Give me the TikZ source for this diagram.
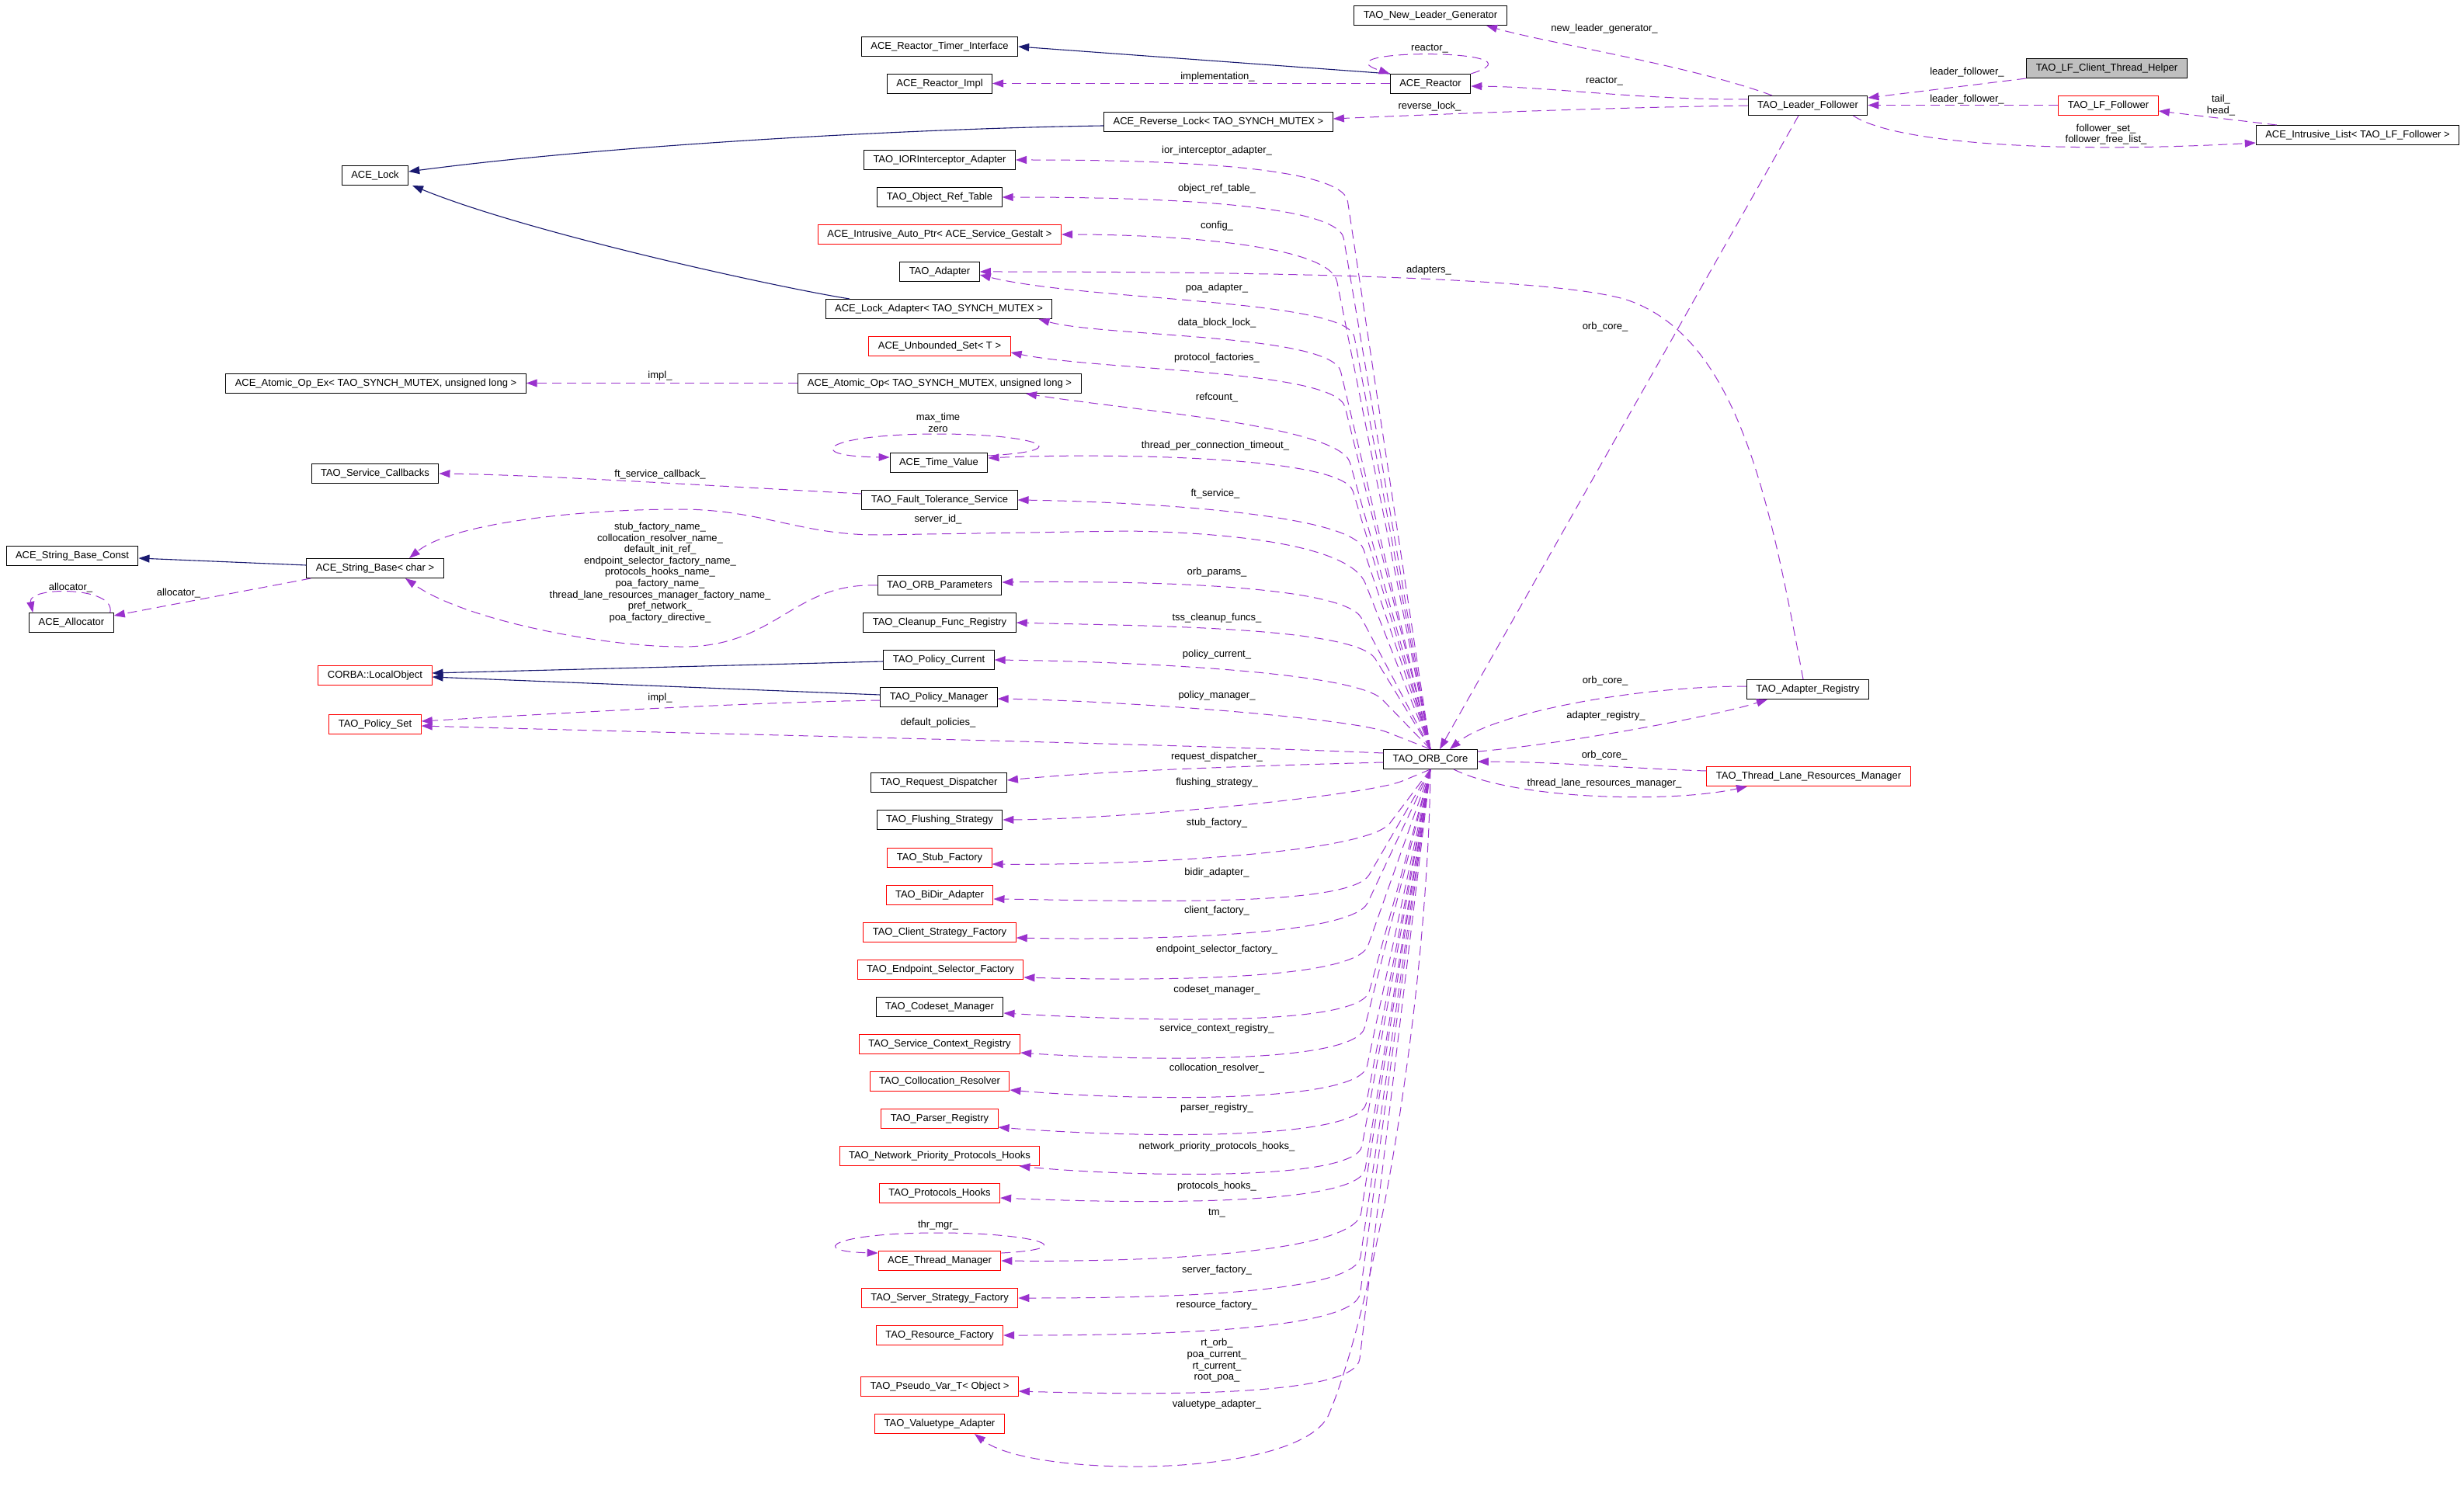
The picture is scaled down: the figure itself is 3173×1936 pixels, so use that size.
\documentclass[tikz,border=0pt]{standalone}
\usepackage{fontspec}
\setmainfont{Liberation Sans}
\usetikzlibrary{arrows.meta,calc}
\definecolor{edgepurple}{RGB}{154,50,205}
\definecolor{edgeblue}{RGB}{25,25,112}
\definecolor{helpergray}{RGB}{191,191,191}

\begin{document}
\begin{tikzpicture}[x=0.5pt, y=-0.5pt, font=\fontsize{6.5}{7.3}\selectfont,
    cls/.style={draw=black, line width=0.5pt, rectangle, minimum height=12.5pt, inner xsep=6pt, inner ysep=0pt},
    redcls/.style={cls, draw=red},
    curcls/.style={cls, fill=helpergray},
    dep/.style={draw=edgepurple, line width=0.5pt, dash pattern=on 6pt off 3.5pt, -{Triangle[length=7pt,width=5pt]}},
    inh/.style={draw=edgeblue, line width=0.55pt, -{Triangle[length=7pt,width=5pt]}},
    lbl/.style={inner sep=0pt, align=center}]
    \useasboundingbox (0,0) rectangle (3173,1936);

    % top row
    \node[cls] (nlg) at (1842,20) {TAO\_New\_Leader\_Generator};
    \node[cls] (rti) at (1210,60) {ACE\_Reactor\_Timer\_Interface};
    \node[cls] (rimpl) at (1210,108) {ACE\_Reactor\_Impl};
    \node[cls] (reactor) at (1842,108) {ACE\_Reactor};
    \node[cls] (revlock) at (1569,157) {ACE\_Reverse\_Lock< TAO\_SYNCH\_MUTEX >};
    \node[cls] (lf) at (2328,136) {TAO\_Leader\_Follower};
    \node[curcls] (helper) at (2713,88) {TAO\_LF\_Client\_Thread\_Helper};
    \node[redcls] (lff) at (2715,136) {TAO\_LF\_Follower};
    \node[cls] (ilist) at (3036,174) {ACE\_Intrusive\_List< TAO\_LF\_Follower >};

    % left part
    \node[cls] (lock) at (483,226) {ACE\_Lock};
    \node[cls] (atomex) at (484,494) {ACE\_Atomic\_Op\_Ex< TAO\_SYNCH\_MUTEX, unsigned long >};
    \node[cls] (scb) at (483,610) {TAO\_Service\_Callbacks};
    \node[cls] (sbc) at (93,716) {ACE\_String\_Base\_Const};
    \node[cls] (sb) at (483,732) {ACE\_String\_Base< char >};
    \node[cls] (alloc) at (92,802) {ACE\_Allocator};
    \node[redcls] (lobj) at (483,870) {CORBA::LocalObject};
    \node[redcls] (pset) at (483,933) {TAO\_Policy\_Set};

    % member column
    \node[cls] (ior) at (1210,206) {TAO\_IORInterceptor\_Adapter};
    \node[cls] (ort) at (1210,254) {TAO\_Object\_Ref\_Table};
    \node[redcls] (iap) at (1210,302) {ACE\_Intrusive\_Auto\_Ptr< ACE\_Service\_Gestalt >};
    \node[cls] (adapter) at (1210,350) {TAO\_Adapter};
    \node[cls] (lockad) at (1209,398) {ACE\_Lock\_Adapter< TAO\_SYNCH\_MUTEX >};
    \node[redcls] (uset) at (1210,446) {ACE\_Unbounded\_Set< T >};
    \node[cls] (atom) at (1210,494) {ACE\_Atomic\_Op< TAO\_SYNCH\_MUTEX, unsigned long >};
    \node[cls] (tv) at (1209,596) {ACE\_Time\_Value};
    \node[cls] (fts) at (1210,644) {TAO\_Fault\_Tolerance\_Service};
    \node[cls] (orbp) at (1210,754) {TAO\_ORB\_Parameters};
    \node[cls] (cfr) at (1210,802) {TAO\_Cleanup\_Func\_Registry};
    \node[cls] (pcur) at (1209,850) {TAO\_Policy\_Current};
    \node[cls] (pman) at (1209,898) {TAO\_Policy\_Manager};
    \node[cls] (rdisp) at (1209,1008) {TAO\_Request\_Dispatcher};
    \node[cls] (flush) at (1210,1056) {TAO\_Flushing\_Strategy};
    \node[redcls] (stub) at (1210,1105) {TAO\_Stub\_Factory};
    \node[redcls] (bidir) at (1210,1153) {TAO\_BiDir\_Adapter};
    \node[redcls] (csf) at (1210,1201) {TAO\_Client\_Strategy\_Factory};
    \node[redcls] (esf) at (1211,1249) {TAO\_Endpoint\_Selector\_Factory};
    \node[cls] (codeset) at (1210,1297) {TAO\_Codeset\_Manager};
    \node[redcls] (scr) at (1210,1345) {TAO\_Service\_Context\_Registry};
    \node[redcls] (coll) at (1210,1393) {TAO\_Collocation\_Resolver};
    \node[redcls] (parser) at (1210,1441) {TAO\_Parser\_Registry};
    \node[redcls] (nph) at (1210,1489) {TAO\_Network\_Priority\_Protocols\_Hooks};
    \node[redcls] (phooks) at (1210,1537) {TAO\_Protocols\_Hooks};
    \node[redcls] (thrmgr) at (1210,1624) {ACE\_Thread\_Manager};
    \node[redcls] (ssf) at (1210,1672) {TAO\_Server\_Strategy\_Factory};
    \node[redcls] (rf) at (1210,1720) {TAO\_Resource\_Factory};
    \node[redcls] (pvar) at (1210,1786) {TAO\_Pseudo\_Var\_T< Object >};
    \node[redcls] (vta) at (1210,1834) {TAO\_Valuetype\_Adapter};

    % core and right part
    \node[cls] (core) at (1842,978) {TAO\_ORB\_Core};
    \node[cls] (areg) at (2328,888) {TAO\_Adapter\_Registry};
    \node[redcls] (tlrm) at (2329,1000) {TAO\_Thread\_Lane\_Resources\_Manager};

    % inheritance
    \draw[inh] (reactor.north west) -- (rti.east);
    \draw[inh] ([yshift=-2.5pt]revlock.west) .. controls (1200,165) and (800,185) .. ([yshift=2.5pt]lock.east);
    \draw[inh] ([xshift=-57.5pt]lockad.north) .. controls (1000,370) and (680,300) .. ([xshift=24pt]lock.south);
    \draw[inh] ([yshift=2pt]sb.west) -- ([yshift=-1.5pt]sbc.east);
    \draw[inh] ([yshift=-1pt]pcur.west) -- ([yshift=1.5pt]lobj.east);
    \draw[inh] ([yshift=1.5pt]pman.west) -- ([yshift=-1pt]lobj.east);

    % leader follower group
    \draw[dep] (reactor.north east) .. controls (2000,62) and (1690,62) .. (reactor.north west) node[lbl] at (1841,63) {reactor\_};
    \draw[dep] ([yshift=0.25pt]reactor.west) -- ([yshift=0.25pt]rimpl.east) node[lbl] at (1568,99) {implementation\_};
    \draw[dep] ([xshift=-23pt]lf.north) .. controls (2180,85) and (1990,55) .. ([xshift=36pt]nlg.south) node[lbl] at (2066,37) {new\_leader\_generator\_};
    \draw[dep] ([yshift=4pt]lf.west) .. controls (2100,128) and (2000,112) .. ([yshift=-1.5pt]reactor.east) node[lbl] at (2066,105) {reactor\_};
    \draw[dep] (lf.west) .. controls (2100,138) and (1900,145) .. ([yshift=2pt]revlock.east) node[lbl] at (1841,137) {reverse\_lock\_};
    \draw[dep] (helper.south west) -- ([yshift=5pt]lf.east) node[lbl] at (2533,93) {leader\_follower\_};
    \draw[dep] ([yshift=0.25pt]lff.west) -- ([yshift=0.25pt]lf.east) node[lbl] at (2533,128) {leader\_follower\_};
    \draw[dep] ([xshift=13.5pt]ilist.north west) -- ([yshift=-3.5pt]lff.east) node[lbl] at (2860,135.5) {tail\_\\head\_};
    \draw[dep] ([xshift=-9.5pt]lf.south east) .. controls (2440,185) and (2650,198) .. ([yshift=-5pt]ilist.west) node[lbl] at (2712,173) {follower\_set\_\\follower\_free\_list\_};
    \draw[dep] ([xshift=-6pt]lf.south) -- ([xshift=6pt]core.north) node[lbl] at (2067,421) {orb\_core\_};

    % adapter registry and lane resources
    \draw[dep] ([xshift=-3pt]areg.north) .. controls (2280,650) and (2240,440) .. (2100,388) .. controls (2002,352) and (1500,350) .. (adapter.east) node[lbl] at (1840,348) {adapters\_};
    \draw[dep] ([yshift=2pt]areg.west) .. controls (2100,884) and (1920,920) .. ([xshift=12.5pt]core.north) node[lbl] at (2067,877) {orb\_core\_};
    \draw[dep] ([yshift=5pt]core.east) .. controls (2000,960) and (2200,925) .. ([xshift=-26pt]areg.south) node[lbl] at (2068,922) {adapter\_registry\_};
    \draw[dep] ([yshift=3.5pt]tlrm.west) .. controls (2100,990) and (2000,981) .. ([yshift=-1.5pt]core.east) node[lbl] at (2066,973) {orb\_core\_};
    \draw[dep] ([xshift=15pt]core.south) .. controls (1950,1030) and (2150,1035) .. ([xshift=-39.5pt]tlrm.south) node[lbl] at (2066,1009) {thread\_lane\_resources\_manager\_};

    % members above the core
    \draw[dep] (core.north) -- ($(1728,210)!25pt!(core.north)$) .. controls (1728,210) and (1460,206) .. (ior.east) node[lbl] at (1567,194) {ior\_interceptor\_adapter\_};
    \draw[dep] (core.north) -- ($(1722,258)!25pt!(core.north)$) .. controls (1722,258) and (1440,254) .. (ort.east) node[lbl] at (1567,243) {object\_ref\_table\_};
    \draw[dep] (core.north) -- ($(1712,314)!25pt!(core.north)$) .. controls (1712,314) and (1500,302) .. (iap.east) node[lbl] at (1567,291) {config\_};
    \draw[dep] (core.north) -- ($(1735,385)!25pt!(core.north)$) .. controls (1735,385) and (1400,388) .. ([yshift=-2pt]adapter.east) node[lbl] at (1567,371) {poa\_adapter\_};
    \draw[dep] (core.north) -- ($(1715,430)!25pt!(core.north)$) .. controls (1715,430) and (1420,434) .. ([xshift=-9pt]lockad.south east) node[lbl] at (1567,416) {data\_block\_lock\_};
    \draw[dep] (core.north) -- ($(1720,476)!25pt!(core.north)$) .. controls (1720,476) and (1420,478) .. ([yshift=-4pt]uset.east) node[lbl] at (1567,461) {protocol\_factories\_};
    \draw[dep] (core.north) -- ($(1725,548)!25pt!(core.north)$) .. controls (1725,548) and (1450,528) .. ([xshift=55.5pt]atom.south) node[lbl] at (1567,512) {refcount\_};
    \draw[dep] (core.north) -- ($(1728,585)!25pt!(core.north)$) .. controls (1728,585) and (1400,584) .. ([yshift=3pt]tv.east) node[lbl] at (1565,574) {thread\_per\_connection\_timeout\_};
    \draw[dep] (core.north) -- ($(1740,660)!25pt!(core.north)$) .. controls (1740,660) and (1450,646) .. (fts.east) node[lbl] at (1565,636) {ft\_service\_};
    \draw[dep] (core.north) -- ($(1740,705)!25pt!(core.north)$) .. controls (1740,705) and (1600,686) .. (1450,684) -- (1130,689) .. controls (1030,689) and (980,656) .. (875,656) .. controls (740,656) and (580,675) .. ([xshift=22pt]sb.north) node[lbl] at (1208,669) {server\_id\_};
    \draw[dep] (core.north) -- ($(1730,752)!25pt!(core.north)$) .. controls (1730,752) and (1450,748) .. ([yshift=2pt]orbp.east) node[lbl] at (1567,737) {orb\_params\_};
    \draw[dep] (core.north) -- ($(1745,806)!25pt!(core.north)$) .. controls (1745,806) and (1450,806) .. (cfr.east) node[lbl] at (1567,796) {tss\_cleanup\_funcs\_};
    \draw[dep] (core.north) -- ($(1745,865)!25pt!(core.north)$) .. controls (1745,865) and (1450,852) .. (pcur.east) node[lbl] at (1567,843) {policy\_current\_};
    \draw[dep] (core.north) -- ($(1740,925)!25pt!(core.north)$) .. controls (1740,925) and (1450,903) .. ([yshift=-1pt]pman.east) node[lbl] at (1567,896) {policy\_manager\_};
    \draw[dep] ([yshift=4pt]core.west) .. controls (1500,958) and (900,945) .. ([yshift=-1pt]pset.east) node[lbl] at (1208,931) {default\_policies\_};
    \draw[dep] ([yshift=-2pt]core.west) .. controls (1550,988) and (1400,995) .. ([yshift=1.5pt]rdisp.east) node[lbl] at (1567,975) {request\_dispatcher\_};

    % members below the core
    \draw[dep] (core.south) -- ($(1760,1025)!25pt!(core.south)$) .. controls (1760,1025) and (1450,1055) .. (flush.east) node[lbl] at (1567,1008) {flushing\_strategy\_};
    \draw[dep] (core.south) -- ($(1760,1100)!25pt!(core.south)$) .. controls (1760,1100) and (1450,1115) .. ([yshift=-4pt]stub.east) node[lbl] at (1567,1060) {stub\_factory\_};
    \draw[dep] (core.south) -- ($(1738,1170)!25pt!(core.south)$) .. controls (1738,1170) and (1450,1160) .. ([yshift=-2.5pt]bidir.east) node[lbl] at (1567,1124) {bidir\_adapter\_};
    \draw[dep] (core.south) -- ($(1740,1208)!25pt!(core.south)$) .. controls (1740,1208) and (1450,1211) .. ([yshift=-3.5pt]csf.east) node[lbl] at (1567,1173) {client\_factory\_};
    \draw[dep] (core.south) -- ($(1745,1265)!25pt!(core.south)$) .. controls (1745,1265) and (1460,1263) .. ([yshift=-5pt]esf.east) node[lbl] at (1567,1223) {endpoint\_selector\_factory\_};
    \draw[dep] (core.south) -- ($(1750,1325)!25pt!(core.south)$) .. controls (1750,1325) and (1450,1314) .. ([yshift=-4pt]codeset.east) node[lbl] at (1567,1275) {codeset\_manager\_};
    \draw[dep] (core.south) -- ($(1745,1372)!25pt!(core.south)$) .. controls (1745,1372) and (1460,1366) .. ([yshift=-5.5pt]scr.east) node[lbl] at (1567,1325) {service\_context\_registry\_};
    \draw[dep] (core.south) -- ($(1750,1422)!25pt!(core.south)$) .. controls (1750,1422) and (1460,1418) .. ([yshift=-5.5pt]coll.east) node[lbl] at (1567,1376) {collocation\_resolver\_};
    \draw[dep] (core.south) -- ($(1750,1470)!25pt!(core.south)$) .. controls (1750,1470) and (1460,1466) .. ([yshift=-5.5pt]parser.east) node[lbl] at (1567,1427) {parser\_registry\_};
    \draw[dep] (core.south) -- ($(1745,1525)!25pt!(core.south)$) .. controls (1745,1525) and (1430,1514) .. ([xshift=-13.5pt]nph.south east) node[lbl] at (1567,1477) {network\_priority\_protocols\_hooks\_};
    \draw[dep] (core.south) -- ($(1750,1555)!25pt!(core.south)$) .. controls (1750,1555) and (1450,1550) .. ([yshift=-3pt]phooks.east) node[lbl] at (1567,1528) {protocols\_hooks\_};
    \draw[dep] (core.south) -- ($(1745,1612)!25pt!(core.south)$) .. controls (1745,1612) and (1500,1626) .. (thrmgr.east) node[lbl] at (1567,1563) {tm\_};
    \draw[dep] (core.south) -- ($(1745,1668)!25pt!(core.south)$) .. controls (1745,1668) and (1480,1672) .. (ssf.east) node[lbl] at (1567,1636) {server\_factory\_};
    \draw[dep] (core.south) -- ($(1745,1715)!25pt!(core.south)$) .. controls (1745,1715) and (1480,1720) .. (rf.east) node[lbl] at (1567,1681) {resource\_factory\_};
    \draw[dep] (core.south) -- ($(1745,1800)!25pt!(core.south)$) .. controls (1745,1800) and (1480,1797) .. ([yshift=-3pt]pvar.east) node[lbl] at (1567,1752.5) {rt\_orb\_\\poa\_current\_\\rt\_current\_\\root\_poa\_};
    \draw[dep] (core.south) .. controls (1838,1300) and (1770,1680) .. (1712,1820) .. controls (1680,1905) and (1330,1905) .. ([xshift=22.5pt]vta.south) node[lbl] at (1567,1809) {valuetype\_adapter\_};

    % left side members
    \draw[dep] ([yshift=0.25pt]atom.west) -- ([yshift=0.25pt]atomex.east) node[lbl] at (850,484) {impl\_};
    \draw[dep] ([yshift=4pt]fts.west) .. controls (900,625) and (700,612) .. (scb.east) node[lbl] at (850,611) {ft\_service\_callback\_};
    \draw[dep] ([yshift=-2pt]pman.west) .. controls (950,905) and (700,920) .. ([yshift=2pt]pset.east) node[lbl] at (850,899) {impl\_};
    \draw[dep] (orbp.west) .. controls (1020,750) and (1000,835) .. (875,833) .. controls (780,833) and (600,800) .. ([xshift=19.5pt]sb.south) node[lbl] at (850,737.5) {stub\_factory\_name\_\\collocation\_resolver\_name\_\\default\_init\_ref\_\\endpoint\_selector\_factory\_name\_\\protocols\_hooks\_name\_\\poa\_factory\_name\_\\thread\_lane\_resources\_manager\_factory\_name\_\\pref\_network\_\\poa\_factory\_directive\_};
    \draw[dep] ([xshift=3pt]sb.south west) -- ([yshift=4.5pt]alloc.east) node[lbl] at (230,764) {allocator\_};
    \draw[dep] ([xshift=-2.5pt]alloc.north east) .. controls (150,755) and (35,755) .. ([xshift=2.5pt]alloc.north west) node[lbl] at (91,757) {allocator\_};
    \draw[dep] ([yshift=-2pt]tv.north east) .. controls (1395,580) and (1330,559) .. (1208,559) .. controls (1060,559) and (1030,588) .. ([yshift=-3pt]tv.north west) node[lbl] at (1208,544.5) {max\_time\\zero};
    \draw[dep] ([yshift=-1.5pt]thrmgr.north east) .. controls (1400,1608) and (1330,1588) .. (1208,1588) .. controls (1070,1588) and (1040,1612) .. ([yshift=-1.5pt]thrmgr.north west) node[lbl] at (1208,1578) {thr\_mgr\_};
\end{tikzpicture}
\end{document}
